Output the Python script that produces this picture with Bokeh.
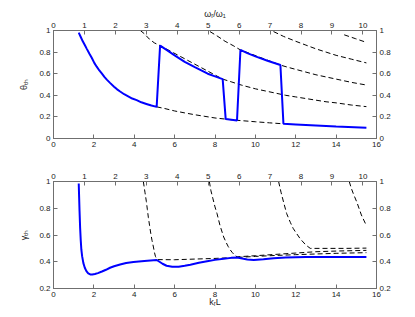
from bokeh.plotting import figure
from bokeh.models import Range1d, LinearAxis, FixedTicker
from bokeh.layouts import column
from bokeh.embed import file_html
from bokeh.resources import INLINE

# ---------------- data ----------------
# top panel: theta_th vs k_r L (solid blue = threshold actually selected)
kl_top_blue = [1.25, 1.35, 1.45, 1.55, 1.65, 1.78, 1.9, 2.02, 2.14, 2.27, 2.4, 2.52, 2.64, 2.8, 3.0, 3.15,
               3.3, 3.5, 3.7, 3.9, 4.12, 4.35, 4.6, 4.85, 5.11,
               5.28, 5.6, 6.0, 6.5, 7.0, 7.64, 8.0, 8.38,
               8.53, 9.09,
               9.26, 9.6, 10.0, 10.6, 11.24,
               11.39, 12.0, 13.0, 14.0, 15.5]
theta_blue = [0.98, 0.94, 0.90, 0.865, 0.83, 0.785, 0.745, 0.70, 0.665, 0.63, 0.60, 0.57, 0.545, 0.515, 0.48, 0.455,
              0.435, 0.41, 0.39, 0.37, 0.355, 0.335, 0.32, 0.305, 0.293,
              0.86, 0.82, 0.77, 0.71, 0.66, 0.60, 0.575, 0.55,
              0.18, 0.167,
              0.82, 0.79, 0.76, 0.72, 0.68,
              0.136, 0.13, 0.12, 0.11, 0.10]

# top panel dashed mode curves
kl_top_a = [5.11, 5.5, 6, 6.5, 7, 7.5, 8, 8.5, 9, 10, 10.7, 11.39]
theta_a = [0.293, 0.278, 0.255, 0.237, 0.22, 0.205, 0.19, 0.18, 0.17, 0.155, 0.145, 0.136]
kl_top_b = [4.3, 4.5, 4.75, 5.0, 5.28, 8.38, 8.8, 9.3, 10, 10.5, 11, 11.5, 12, 12.5, 13, 13.5, 14, 14.75, 15.5]
theta_b = [1.0, 0.97, 0.92, 0.885, 0.86, 0.55, 0.525, 0.495, 0.46, 0.44, 0.42, 0.40, 0.385, 0.37, 0.355, 0.34,
           0.33, 0.31, 0.295]
kl_top_c = [7.75, 8.1, 8.5, 8.9, 9.26, 11.24, 11.6, 12, 12.5, 13, 13.5, 14, 14.75, 15.5]
theta_c = [0.99, 0.95, 0.90, 0.86, 0.82, 0.68, 0.66, 0.64, 0.615, 0.59, 0.57, 0.55, 0.52, 0.495]
kl_top_d = [10.9, 11.4, 12, 12.5, 13, 13.5, 14, 14.75, 15.5]
theta_d = [0.99, 0.945, 0.90, 0.865, 0.83, 0.80, 0.77, 0.735, 0.70]
kl_top_e = [14.4, 14.95, 15.5]
theta_e = [0.96, 0.925, 0.89]

# bottom panel: gamma_th vs k_r L
kl_bot_blue = [1.25, 1.27, 1.29, 1.32, 1.35, 1.38, 1.42, 1.48, 1.55, 1.63, 1.72, 1.82, 1.92, 2.05, 2.2, 2.4,
               2.6, 2.8, 3.0, 3.3, 3.6, 3.96, 4.5, 5.11, 5.25, 5.4, 5.6, 5.88, 6.2, 6.5, 6.78, 7.2,
               7.61, 8.0, 8.43, 8.8, 9.09, 9.35, 9.6, 9.92, 10.4, 10.9, 11.5, 12.5, 14.0, 15.5]
gamma_blue = [0.985, 0.88, 0.78, 0.65, 0.56, 0.49, 0.44, 0.39, 0.355, 0.33, 0.313, 0.305, 0.304, 0.308, 0.315, 0.327,
              0.34, 0.355, 0.366, 0.38, 0.39, 0.398, 0.406, 0.413, 0.40, 0.385, 0.37, 0.362, 0.363, 0.37, 0.378, 0.392,
              0.404, 0.414, 0.423, 0.429, 0.432, 0.424, 0.417, 0.414, 0.419, 0.427, 0.432, 0.435, 0.435, 0.435]

kl_bot_b = [4.45, 4.53, 4.6, 4.65, 4.70, 4.76, 4.82, 4.88, 4.95, 5.0, 5.05, 5.1, 5.15, 6, 7, 8, 9.09, 10, 11, 12,
            13, 14, 15.5]
gamma_b = [1.0, 0.92, 0.85, 0.79, 0.73, 0.67, 0.61, 0.56, 0.51, 0.47, 0.44, 0.425, 0.416, 0.415, 0.42, 0.425,
           0.432, 0.44, 0.447, 0.453, 0.458, 0.463, 0.468]
kl_bot_c = [7.72, 7.8, 7.9, 8.0, 8.10, 8.25, 8.43, 8.55, 8.65, 8.75, 8.85, 8.97, 9.09, 10, 11, 12, 13, 14, 15.5]
gamma_c = [1.0, 0.93, 0.87, 0.81, 0.76, 0.67, 0.585, 0.545, 0.515, 0.49, 0.47, 0.45, 0.437, 0.445, 0.455, 0.465,
           0.475, 0.48, 0.485]
kl_bot_d = [11.15, 11.27, 11.4, 11.55, 11.73, 11.87, 12.0, 12.23, 12.5, 12.72, 13.5, 14.5, 15.5]
gamma_d = [1.0, 0.92, 0.844, 0.76, 0.695, 0.65, 0.62, 0.57, 0.525, 0.50, 0.50, 0.50, 0.502]
kl_bot_e = [14.65, 14.75, 14.85, 15.03, 15.25, 15.5]
gamma_e = [1.0, 0.95, 0.91, 0.844, 0.75, 0.67]

# ticks / labels
kl_ticks = [0, 2, 4, 6, 8, 10, 12, 14, 16]
kl_tick_labels = ["0", "2", "4", "6", "8", "10", "12", "14", "16"]
w_ticks = [0, 1, 2, 3, 4, 5, 6, 7, 8, 9, 10]
w_tick_labels = ["0", "1", "2", "3", "4", "5", "6", "7", "8", "9", "10"]
theta_ticks = [0, 0.2, 0.4, 0.6, 0.8, 1.0]
theta_tick_labels = ["0", "0.2", "0.4", "0.6", "0.8", "1"]
gamma_ticks = [0.2, 0.4, 0.6, 0.8, 1.0]
gamma_tick_labels = ["0.2", "0.4", "0.6", "0.8", "1"]
w_max = 10.44

FONT = "Liberation Sans"
AX_COLOR = "#6f6f6f"
TXT_COLOR = "#222222"
BLUE = "#0000ff"


def style_axis(ax, ticks, labels):
    ax.ticker = FixedTicker(ticks=ticks)
    ax.major_label_overrides = {t: l for t, l in zip(ticks, labels)}
    ax.axis_line_color = AX_COLOR
    ax.major_tick_line_color = AX_COLOR
    ax.minor_tick_line_color = None
    ax.major_tick_in = 4
    ax.major_tick_out = 0
    ax.major_label_standoff = 3
    ax.major_label_text_font = FONT
    ax.major_label_text_font_size = "8px"
    ax.major_label_text_color = TXT_COLOR
    ax.axis_label_text_font = FONT
    ax.axis_label_text_font_style = "normal"
    ax.axis_label_text_font_size = "9px"
    ax.axis_label_text_color = TXT_COLOR


def make_panel(height, y0, y1, yticks, ylabels, ylabel, border_top, border_bottom):
    p = figure(width=407, height=height, x_range=Range1d(0, 16), y_range=Range1d(y0, y1),
               output_backend="svg", toolbar_location=None,
               x_axis_location=None, y_axis_location=None,
               min_border_left=53, min_border_right=31,
               min_border_top=border_top, min_border_bottom=border_bottom)
    p.extra_x_ranges = {"w": Range1d(0, w_max)}
    p.outline_line_color = AX_COLOR
    p.background_fill_color = "white"
    p.border_fill_color = "white"

    left = LinearAxis()
    style_axis(left, yticks, ylabels)
    left.axis_label = ylabel
    left.axis_label_standoff = 7
    p.add_layout(left, "left")

    right = LinearAxis()
    style_axis(right, yticks, ylabels)
    p.add_layout(right, "right")

    below = LinearAxis()
    style_axis(below, kl_ticks, kl_tick_labels)
    p.add_layout(below, "below")

    above = LinearAxis(x_range_name="w")
    style_axis(above, w_ticks, w_tick_labels)
    p.add_layout(above, "above")

    p.xgrid.visible = False
    p.ygrid.visible = False
    return p, below


dash = "5 3"

# ---------------- top panel ----------------
p1, _ = make_panel(160, 0, 1, theta_ticks, theta_tick_labels, "θₜₕ", 30, 22)
p1.title.text = "ωᵣ/ω₁"
p1.title.align = "center"
p1.title.text_font = FONT
p1.title.text_font_style = "normal"
p1.title.text_font_size = "9px"
p1.title.text_color = TXT_COLOR
p1.title.standoff = 1
for xs, ys in [(kl_top_a, theta_a), (kl_top_b, theta_b), (kl_top_c, theta_c),
               (kl_top_d, theta_d), (kl_top_e, theta_e)]:
    p1.line(xs, ys, line_color="black", line_width=1, line_dash=dash)
p1.line(kl_top_blue, theta_blue, line_color=BLUE, line_width=2)

# ---------------- bottom panel ----------------
p2, below2 = make_panel(156, 0.2, 1, gamma_ticks, gamma_tick_labels, "γₜₕ", 21, 28)
below2.axis_label = "kᵣL"
below2.axis_label_standoff = -3
for xs, ys in [(kl_bot_b, gamma_b), (kl_bot_c, gamma_c), (kl_bot_d, gamma_d), (kl_bot_e, gamma_e)]:
    p2.line(xs, ys, line_color="black", line_width=1, line_dash=dash)
p2.line(kl_bot_blue, gamma_blue, line_color=BLUE, line_width=2)

layout = column(p1, p2, spacing=0)
open("out.html", "w").write(file_html(layout, INLINE))
